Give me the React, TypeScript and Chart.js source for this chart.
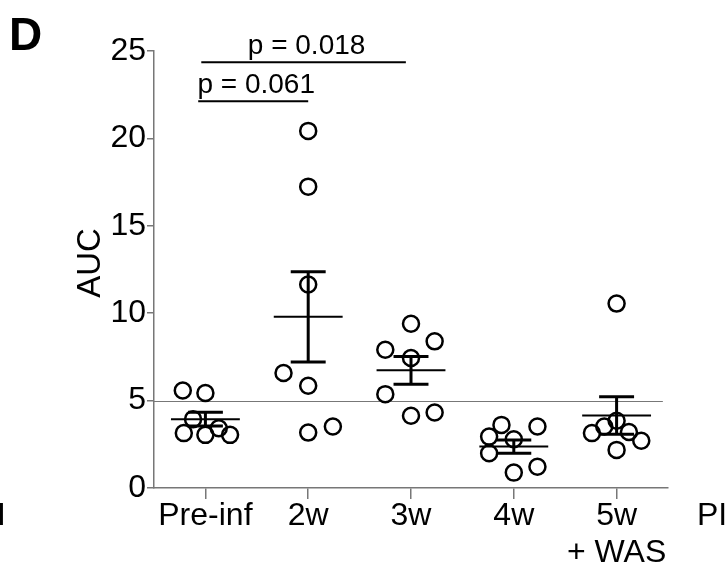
import { useEffect, useRef } from "react";
import { Chart, registerables } from "chart.js";
Chart.register(...registerables);

const categories = ["Pre-inf", "2w", "3w", "4w", "5w\n+ WAS"];

const preInf = [5.58, 5.43, 3.94, 3.14, 3.04, 3.42, 3.04];
const week2 = [20.43, 17.24, 11.64, 6.58, 5.85, 3.17, 3.52];
const week3 = [9.4, 8.39, 7.91, 7.44, 5.37, 4.13, 4.32];
const week4 = [3.61, 3.52, 2.94, 2.79, 1.99, 0.88, 1.22];
const week5 = [10.55, 3.85, 3.52, 3.14, 3.2, 2.7, 2.18];

const preInfJitter = [-0.22, 0, -0.12, -0.21, 0, 0.13, 0.24];
const week2Jitter = [0, 0, 0, -0.24, 0, 0, 0.24];
const week3Jitter = [0, 0.23, -0.25, 0, -0.25, 0, 0.23];
const week4Jitter = [-0.12, 0.23, -0.24, 0, -0.24, 0, 0.23];
const week5Jitter = [0, 0, -0.12, -0.24, 0.12, 0.24, 0];

const means = [3.94, 9.79, 6.73, 2.37, 4.15];
const sems = [0.4, 2.58, 0.8, 0.38, 1.07];

const refLine = 5;
const sigFrom = [-0.04, -0.07];
const sigTo = [1.95, 1.0];
const sigY = [24.35, 22.12];
const sigLabels = ["p = 0.018", "p = 0.061"];

const groups = [preInf, week2, week3, week4, week5];
const jitters = [preInfJitter, week2Jitter, week3Jitter, week4Jitter, week5Jitter];

const FONT = "'Liberation Sans', Arial, Helvetica, sans-serif";
const TICK_FS = 32;
const P_FS = 28;

const annotPlugin = {
  id: "annot",
  beforeDatasetsDraw(chart: any) {
    const { ctx, scales } = chart;
    const x = scales.x;
    const y = scales.y;
    ctx.save();
    ctx.strokeStyle = "#777";
    ctx.lineWidth = 1.2;
    ctx.beginPath();
    const py = Math.round(y.getPixelForValue(refLine)) + 0.5;
    ctx.moveTo(chart.chartArea.left, py);
    ctx.lineTo(x.getPixelForValue(4.45), py);
    ctx.stroke();
    ctx.restore();
  },
  afterDatasetsDraw(chart: any) {
    const { ctx, scales } = chart;
    const x = scales.x;
    const y = scales.y;
    ctx.save();
    ctx.strokeStyle = "#000";
    means.forEach((m, i) => {
      const cx = x.getPixelForValue(i);
      const my = y.getPixelForValue(m);
      const top = y.getPixelForValue(m + sems[i]);
      const bot = y.getPixelForValue(m - sems[i]);
      const halfMean = x.getPixelForValue(i + 0.335) - cx;
      const halfCap = x.getPixelForValue(i + 0.17) - cx;
      ctx.lineWidth = 2;
      ctx.beginPath();
      ctx.moveTo(cx - halfMean, my);
      ctx.lineTo(cx + halfMean, my);
      ctx.stroke();
      ctx.lineWidth = 3;
      ctx.beginPath();
      ctx.moveTo(cx, top);
      ctx.lineTo(cx, bot);
      ctx.moveTo(cx - halfCap, top);
      ctx.lineTo(cx + halfCap, top);
      ctx.moveTo(cx - halfCap, bot);
      ctx.lineTo(cx + halfCap, bot);
      ctx.stroke();
    });
    ctx.fillStyle = "#000";
    ctx.font = `${P_FS}px ${FONT}`;
    ctx.textAlign = "center";
    ctx.textBaseline = "alphabetic";
    sigLabels.forEach((lab, i) => {
      const x1 = x.getPixelForValue(sigFrom[i]);
      const x2 = x.getPixelForValue(sigTo[i]);
      const py = y.getPixelForValue(sigY[i]);
      ctx.lineWidth = 2;
      ctx.beginPath();
      ctx.moveTo(x1, py);
      ctx.lineTo(x2, py);
      ctx.stroke();
      ctx.fillText(lab, (x1 + x2) / 2 + 3, py - 8);
    });
    ctx.textAlign = "left";
    ctx.font = `bold 46px ${FONT}`;
    ctx.fillText("D", 9, 50);
    ctx.font = `33px ${FONT}`;
    ctx.save();
    ctx.translate(100, 263);
    ctx.rotate(-Math.PI / 2);
    ctx.textAlign = "center";
    ctx.fillText("AUC", 0, 0);
    ctx.restore();
    ctx.font = `${TICK_FS}px ${FONT}`;
    const labelBase = chart.chartArea.bottom + 37;
    ctx.textAlign = "left";
    ctx.fillText("PI", 697, labelBase);
    ctx.fillText("I", -3, labelBase);
    ctx.restore();
  },
};

export default function App() {
  const ref = useRef<HTMLCanvasElement>(null);
  useEffect(() => {
    if (!ref.current) return;
    const chart = new Chart(ref.current, {
      type: "scatter",
      data: {
        datasets: groups.map((g, i) => ({
          data: g.map((v, j) => ({ x: i + jitters[i][j], y: v })),
          pointRadius: 8,
          pointBorderWidth: 2.5,
          pointBorderColor: "#000",
          pointBackgroundColor: "rgba(0,0,0,0)",
          showLine: false,
        })),
      },
      options: {
        responsive: false,
        animation: false,
        plugins: { legend: { display: false }, tooltip: { enabled: false } },
        layout: { padding: { left: 0, top: 51, right: 58, bottom: 0 } },
        scales: {
          x: {
            type: "linear",
            min: -0.5,
            max: 4.5,
            afterBuildTicks: (s: any) => {
              s.ticks = [0, 1, 2, 3, 4].map((v) => ({ value: v }));
            },
            afterFit: (s: any) => {
              s.height = 81;
            },
            ticks: {
              callback: (v: any) => (categories[v] ? categories[v].split("\n") : ""),
              font: { family: FONT, size: TICK_FS, lineHeight: 1.15 },
              color: "#000",
              padding: -1,
              maxRotation: 0,
              autoSkip: false,
            },
            grid: { drawOnChartArea: false, tickLength: 11, color: "#777", lineWidth: 1.5 },
            border: { color: "#777", width: 1.5 },
          },
          y: {
            min: 0,
            max: 25,
            afterFit: (s: any) => {
              s.width = 154;
            },
            ticks: {
              stepSize: 5,
              font: { family: FONT, size: TICK_FS },
              color: "#000",
              padding: 1,
            },
            grid: { drawOnChartArea: false, tickLength: 7, color: "#777", lineWidth: 1.5 },
            border: { color: "#777", width: 1.5 },
          },
        },
      },
      plugins: [annotPlugin],
    });
    return () => chart.destroy();
  }, []);
  return (
    <div style={{ position: "fixed", left: 0, top: 0, width: 726, height: 569, background: "#fff" }}>
      <canvas ref={ref} width={726} height={569} style={{ width: 726, height: 569 }} />
    </div>
  );
}
